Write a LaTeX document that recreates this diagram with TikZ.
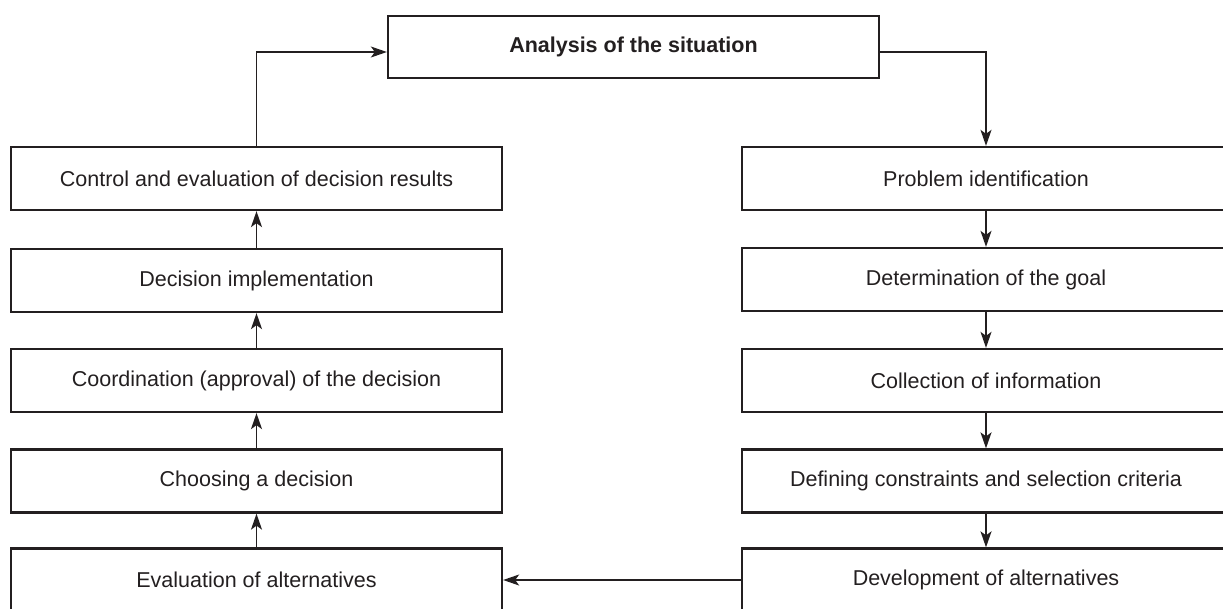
\documentclass[tikz,border=0pt]{standalone}
\usepackage{fontspec}
\setmainfont{Liberation Sans}
\usetikzlibrary{arrows.meta}
\definecolor{ink}{RGB}{35,31,32}
\begin{document}
\begin{tikzpicture}[x=1pt,y=-1pt,
  box/.style={draw=ink, line width=2.3pt, minimum height=63pt, inner sep=0pt,
    text=ink, font=\fontsize{21.5}{24}\selectfont},
  lbox/.style={box, minimum width=491pt},
  rbox/.style={box, minimum width=488pt},
  arr/.style={draw=ink, line width=1.6pt, -{Stealth[length=16pt,width=11pt,inset=4pt]}}]
\useasboundingbox (0,0) rectangle (1223,608);
\node[box, minimum width=491pt, minimum height=62pt, font=\fontsize{21.5}{24}\selectfont\bfseries] (top) at (633.5,47) {Analysis of the situation};
% left column
\node[lbox] (ctrl) at (256.5,178.5) {Control and evaluation of decision results};
\node[lbox] (impl) at (256.5,280.5) {Decision implementation};
\node[lbox] (coord) at (256.5,380.5) {Coordination (approval) of the decision};
\node[lbox] (choose) at (256.5,481) {Choosing a decision};
\node[lbox] (eval) at (256.5,580) {Evaluation of alternatives};
% right column
\node[rbox] (prob) at (986,178.5) {Problem identification};
\node[rbox] (goal) at (986,279.5) {Determination of the goal};
\node[rbox] (info) at (986,380.5) {Collection of information};
\node[rbox] (crit) at (986,481) {Defining constraints and selection criteria};
\node[rbox] (dev) at (986,580) {Development of alternatives};
% connectors
\draw[arr] (ctrl.north) |- ([yshift=-5pt]top.west);
\draw[arr] ([yshift=-5pt]top.east) -| (prob.north);
\draw[arr] (prob.south) -- (goal.north);
\draw[arr] (goal.south) -- (info.north);
\draw[arr] (info.south) -- (crit.north);
\draw[arr] (crit.south) -- (dev.north);
\draw[arr] (dev.west) -- (eval.east);
\draw[arr] (eval.north) -- (choose.south);
\draw[arr] (choose.north) -- (coord.south);
\draw[arr] (coord.north) -- (impl.south);
\draw[arr] (impl.north) -- (ctrl.south);
\end{tikzpicture}
\end{document}
